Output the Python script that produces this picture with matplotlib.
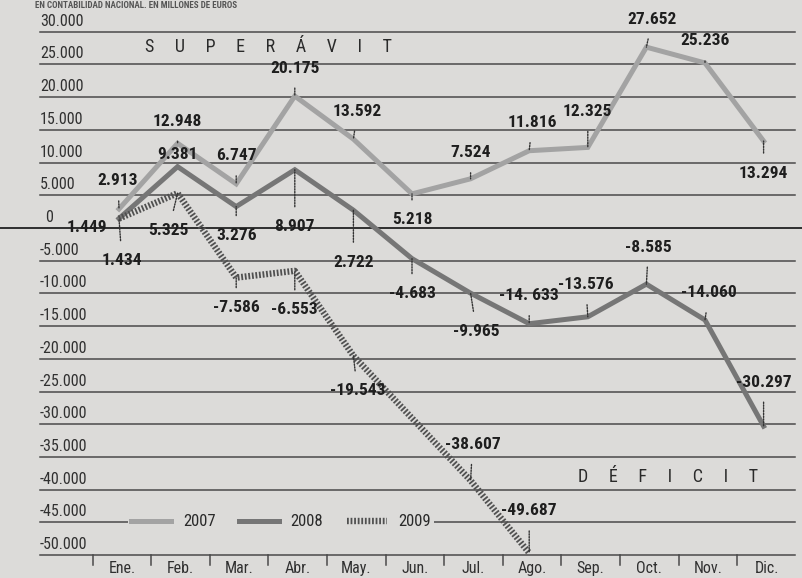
import matplotlib
matplotlib.use("Agg")
import matplotlib.pyplot as plt
from matplotlib import font_manager
from matplotlib.lines import Line2D

# ---------------- data ----------------
months = ["Ene.", "Feb.", "Mar.", "Abr.", "May.", "Jun.", "Jul.", "Ago.",
          "Sep.", "Oct.", "Nov.", "Dic."]
y2007 = [2913, 12948, 6747, 20175, 13592, 5218, 7524, 11816, 12325, 27652, 25236, 13294]
y2008 = [1449, 9381, 3276, 8907, 2722, -4683, -9965, -14633, -13576, -8585, -14060, -30297]
months2009 = ["Ene.", "Feb.", "Mar.", "Abr.", "May.", "Jul.", "Ago."]
y2009 = [1434, 5325, -7586, -6553, -19543, -38607, -49687]
labels2007 = ["2.913", "12.948", "6.747", "20.175", "13.592", "5.218", "7.524",
              "11.816", "12.325", "27.652", "25.236", "13.294"]
labels2008 = ["1.449", "9.381", "3.276", "8.907", "2.722", "-4.683", "-9.965",
              "-14. 633", "-13.576", "-8.585", "-14.060", "-30.297"]
labels2009 = ["1.434", "5.325", "-7.586", "-6.553", "-19.543", "-38.607", "-49.687"]
yticks = [30000, 25000, 20000, 15000, 10000, 5000, 0, -5000, -10000, -15000,
          -20000, -25000, -30000, -35000, -40000, -45000, -50000]
ytick_labels = ["30.000", "25.000", "20.000", "15.000", "10.000", "5.000", "0",
                "-5.000", "-10.000", "-15.000", "-20.000", "-25.000", "-30.000",
                "-35.000", "-40.000", "-45.000", "-50.000"]
series_names = ["2007", "2008", "2009"]

# ---------------- fonts ----------------
avail = {f.name for f in font_manager.fontManager.ttflist}
narrow = next((f for f in ["Liberation Sans Narrow", "DejaVu Sans Condensed",
                           "Roboto Condensed", "Open Sans Condensed", "Liberation Sans"]
               if f in avail), "DejaVu Sans")
plt.rcParams["font.family"] = [narrow, "DejaVu Sans"]

BG = "#dcdbd9"
C07 = "#a3a3a3"
C08 = "#767676"
C09 = "#505050"
GRID = "#4a4a4a"
TXT = "#1e1e1e"

W, H = 802, 578
fig = plt.figure(figsize=(W / 100, H / 100), dpi=100, facecolor=BG)
ax = fig.add_axes([0, 0, 1, 1])
ax.set_facecolor(BG)
for s in ax.spines.values():
    s.set_visible(False)
ax.set_xticks([])
ax.set_yticks([])

# pixel mapping: month i -> x = 119 + 58.6 i ; value v -> y = 228 - v*32.7/5000
x0, dx = 119.0, 58.6
y0, dy = 228.0, 32.7 / 5000
ax.set_xlim((0 - x0) / dx, (W - x0) / dx)
ax.set_ylim((y0 - H) / dy, y0 / dy)

xpos = {m: i for i, m in enumerate(months)}
gx0 = (40 - x0) / dx
gx1 = (795 - x0) / dx

# grid lines
for v in yticks:
    if v == 0:
        ax.plot([ax.get_xlim()[0], ax.get_xlim()[1]], [0, 0], color="#2f2f2f", lw=1.4, zorder=1)
    else:
        ax.plot([gx0, gx1], [v, v], color=GRID, lw=1.1, zorder=1)

# y tick labels (sitting above the lines)
for v, lab in zip(yticks, ytick_labels):
    xl = gx0 if v != 0 else (45 - x0) / dx
    ax.annotate(lab, (xl, v), xytext=(0, 3), textcoords="offset pixels",
                ha="left", va="bottom", fontsize=11.5, color="#303030", zorder=3)

# bottom month ticks and labels
for i, m in enumerate(months):
    xb = i - 0.45
    ax.plot([xb, xb], [-50000, -50000 - 10 / dy], color=GRID, lw=1.1, zorder=1)
    ax.annotate(m, (i + 0.05, -50000), xytext=(0, -6), textcoords="offset pixels",
                ha="center", va="top", fontsize=11.5, color="#303030")

# series
ax.plot(range(12), y2007, color=C07, lw=3.6, solid_joinstyle="miter", zorder=4)
ax.plot(range(12), y2008, color=C08, lw=3.6, solid_joinstyle="miter", zorder=4)
x09 = [xpos[m] for m in months2009]
ax.plot(x09, y2009, color=C09, lw=4.6, dashes=(0.28, 0.28), zorder=4)

# label offsets (pixels): (dx, dy)
off2007 = [(-1, 28), (0, 22), (0, 28), (0, 28), (4, 28), (0, -26), (0, 26),
           (3, 28), (0, 36), (6, 28), (0, 22), (0, -32)]
off2008 = [(-32, -9), (0, 12), (0, -29), (0, -57), (0, -52), (0, -35), (6, -38),
           (0, 28), (-2, 32), (2, 37), (4, 27), (0, 44)]
off2009 = [(3, -42), (-9, -37), (0, -30), (0, -39), (4, -35), (2, 36), (0, 42)]

def label(xs, ys, labs, offs):
    for xx, yy, lab, (ox, oy) in zip(xs, ys, labs, offs):
        lead = abs(oy) > 14 and abs(ox) < 12
        ax.annotate(lab, (xx, yy), xytext=(ox, oy), textcoords="offset pixels",
                    ha="center", va="center", fontsize=12.5, fontweight="bold",
                    color=TXT, zorder=6,
                    arrowprops=dict(arrowstyle="-", linestyle=(0, (1, 1)), color="#333333",
                                    lw=1.0, shrinkA=7, shrinkB=0) if lead else None)

label(range(12), y2007, labels2007, off2007)
label(range(12), y2008, labels2008, off2008)
label(x09, y2009, labels2009, off2009)

# SUPERÁVIT / DÉFICIT
fig.text(145 / W, 1 - 47 / H, "S     U     P     E     R     Á     V     I     T",
         fontsize=13, color="#2a2a2a", va="center", ha="left")
fig.text(578 / W, 1 - 477 / H, "D     É     F     I     C     I     T",
         fontsize=13, color="#2a2a2a", va="center", ha="left")

# subtitle at top
fig.text(35 / W, 1 - 5 / H, "EN CONTABILIDAD NACIONAL. EN MILLONES DE EUROS",
         fontsize=6.5, fontweight="bold", color="#555555", va="center", ha="left")

# legend
handles = [Line2D([], [], color=C07, lw=3.6),
           Line2D([], [], color=C08, lw=3.6),
           Line2D([], [], color=C09, lw=4.6, dashes=(0.28, 0.28))]
leg = ax.legend(handles, series_names, ncol=3, loc="center left",
                bbox_to_anchor=(128 / W, 1 - 522 / H), bbox_transform=fig.transFigure,
                frameon=True, facecolor=BG, edgecolor="none", framealpha=1,
                fontsize=12, handlelength=2.4, columnspacing=1.4, handletextpad=0.7,
                borderpad=0.2, borderaxespad=0)
for t in leg.get_texts():
    t.set_color("#2a2a2a")
leg.set_zorder(5)

fig.savefig("out.png", dpi=100, facecolor=BG)
